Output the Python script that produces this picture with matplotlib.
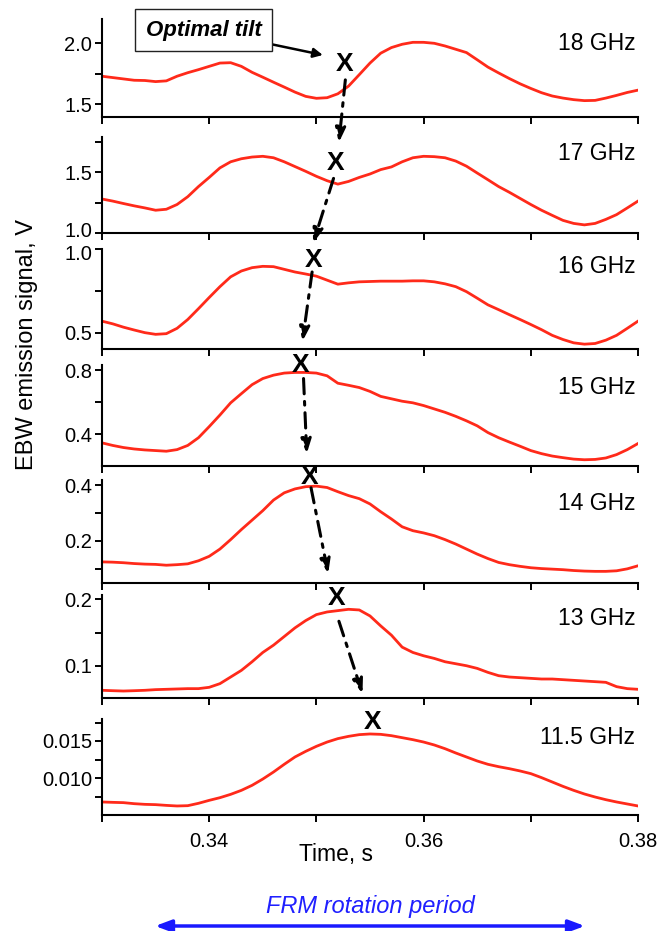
import matplotlib
matplotlib.use('Agg')
import matplotlib.pyplot as plt
from matplotlib.ticker import FixedLocator, FormatStrFormatter, NullFormatter
from matplotlib.patches import ConnectionPatch, FancyArrowPatch
from matplotlib.transforms import blended_transform_factory, ScaledTranslation

plt.rcParams['font.family'] = ['Liberation Sans', 'DejaVu Sans']

# ---------------- data ----------------
time_s = [0.330, 0.331, 0.332, 0.333, 0.334, 0.335, 0.336, 0.337, 0.338, 0.339,
          0.340, 0.341, 0.342, 0.343, 0.344, 0.345, 0.346, 0.347, 0.348, 0.349,
          0.350, 0.351, 0.352, 0.353, 0.354, 0.355, 0.356, 0.357, 0.358, 0.359,
          0.360, 0.361, 0.362, 0.363, 0.364, 0.365, 0.366, 0.367, 0.368, 0.369,
          0.370, 0.371, 0.372, 0.373, 0.374, 0.375, 0.376, 0.377, 0.378, 0.379,
          0.380]

sig_18 = [1.730, 1.719, 1.708, 1.697, 1.695, 1.686, 1.692, 1.730, 1.759, 1.784,
          1.811, 1.838, 1.841, 1.811, 1.762, 1.722, 1.681, 1.641, 1.600, 1.565,
          1.549, 1.554, 1.586, 1.649, 1.743, 1.838, 1.919, 1.965, 1.992, 2.008,
          2.008, 2.000, 1.978, 1.951, 1.924, 1.865, 1.805, 1.757, 1.711, 1.668,
          1.630, 1.595, 1.568, 1.551, 1.538, 1.530, 1.532, 1.551, 1.573, 1.597,
          1.616]
sig_17 = [1.281, 1.264, 1.244, 1.225, 1.208, 1.189, 1.197, 1.236, 1.300, 1.383,
          1.458, 1.536, 1.586, 1.611, 1.625, 1.631, 1.619, 1.586, 1.547, 1.508,
          1.467, 1.431, 1.403, 1.425, 1.458, 1.486, 1.522, 1.544, 1.586, 1.619,
          1.631, 1.628, 1.619, 1.592, 1.550, 1.494, 1.439, 1.383, 1.336, 1.286,
          1.236, 1.189, 1.147, 1.106, 1.081, 1.069, 1.081, 1.114, 1.153, 1.208,
          1.264]
sig_16 = [0.569, 0.553, 0.533, 0.516, 0.500, 0.490, 0.494, 0.526, 0.579, 0.644,
          0.711, 0.776, 0.835, 0.870, 0.890, 0.898, 0.896, 0.880, 0.864, 0.852,
          0.839, 0.815, 0.791, 0.799, 0.805, 0.807, 0.809, 0.809, 0.809, 0.811,
          0.811, 0.805, 0.793, 0.776, 0.746, 0.707, 0.667, 0.638, 0.608, 0.579,
          0.549, 0.518, 0.484, 0.459, 0.439, 0.431, 0.435, 0.455, 0.484, 0.526,
          0.569]
sig_15 = [0.347, 0.331, 0.318, 0.309, 0.303, 0.299, 0.295, 0.305, 0.331, 0.379,
          0.448, 0.520, 0.596, 0.653, 0.709, 0.747, 0.768, 0.781, 0.785, 0.785,
          0.781, 0.764, 0.718, 0.705, 0.691, 0.667, 0.636, 0.621, 0.606, 0.596,
          0.579, 0.558, 0.537, 0.512, 0.484, 0.453, 0.411, 0.379, 0.352, 0.326,
          0.299, 0.280, 0.265, 0.255, 0.246, 0.242, 0.244, 0.253, 0.274, 0.305,
          0.343]
sig_14 = [0.124, 0.123, 0.121, 0.118, 0.116, 0.115, 0.112, 0.114, 0.117, 0.128,
          0.144, 0.170, 0.204, 0.240, 0.274, 0.308, 0.346, 0.372, 0.386, 0.394,
          0.396, 0.391, 0.376, 0.362, 0.351, 0.332, 0.304, 0.278, 0.250, 0.236,
          0.228, 0.218, 0.204, 0.188, 0.170, 0.152, 0.136, 0.122, 0.114, 0.108,
          0.103, 0.100, 0.098, 0.096, 0.093, 0.091, 0.090, 0.090, 0.092, 0.099,
          0.110]
sig_13 = [0.0630, 0.0624, 0.0619, 0.0624, 0.0630, 0.0640, 0.0645, 0.0650, 0.0655, 0.0655,
          0.0675, 0.0730, 0.0830, 0.0930, 0.1060, 0.1200, 0.1310, 0.1440, 0.1570, 0.1680,
          0.1770, 0.1810, 0.1830, 0.1850, 0.1840, 0.1750, 0.1600, 0.1460, 0.1280, 0.1200,
          0.1150, 0.1110, 0.1060, 0.1030, 0.1000, 0.0960, 0.0900, 0.0850, 0.0830, 0.0820,
          0.0810, 0.0800, 0.0800, 0.0790, 0.0780, 0.0770, 0.0760, 0.0750, 0.0685, 0.0655,
          0.0645]
sig_115 = [0.00676, 0.00671, 0.00667, 0.00653, 0.00644, 0.00640, 0.00630, 0.00622, 0.00626, 0.00658,
           0.00698, 0.00734, 0.00779, 0.00833, 0.00901, 0.00986, 0.01081, 0.01185, 0.01284, 0.01360,
           0.01428, 0.01486, 0.01532, 0.01563, 0.01586, 0.01595, 0.01590, 0.01572, 0.01545, 0.01518,
           0.01486, 0.01446, 0.01396, 0.01338, 0.01284, 0.01230, 0.01185, 0.01153, 0.01126, 0.01095,
           0.01059, 0.01005, 0.00946, 0.00887, 0.00833, 0.00784, 0.00743, 0.00707, 0.00676, 0.00649,
           0.00622]

signals = [sig_18, sig_17, sig_16, sig_15, sig_14, sig_13, sig_115]
freq_labels = ['18 GHz', '17 GHz', '16 GHz', '15 GHz', '14 GHz', '13 GHz', '11.5 GHz']

y_limits = [(1.395, 2.2), (1.0, 1.79), (0.405, 1.005), (0.2, 0.83),
            (0.05, 0.418), (0.052, 0.207), (0.005, 0.018)]
y_major = [[1.5, 2.0], [1.0, 1.5], [0.5, 1.0], [0.4, 0.8], [0.2, 0.4], [0.1, 0.2], [0.010, 0.015]]
y_minor = [[1.75], [1.25, 1.75], [0.75], [0.6], [0.1, 0.3], [0.15], [0.0075, 0.0125, 0.0175]]
y_fmt = ['%.1f', '%.1f', '%.1f', '%.1f', '%.1f', '%.1f', '%.3f']

x_major = [0.34, 0.36, 0.38]
x_minor = [0.33, 0.35, 0.37]

# optimal tilt "X" marks (one per panel)
tilt_x = [0.3526, 0.3518, 0.3497, 0.3485, 0.3494, 0.3519, 0.3552]
tilt_y = [1.83, 1.576, 0.936, 0.831, 0.43, 0.2015, 0.01757]

# dash-dot arrows between marks
arr_panel_a = [0, 1, 2, 3, 4, 5]
arr_xa = [0.3527, 0.3516, 0.3496, 0.3488, 0.3495, 0.3521]
arr_ya = [1.70, 1.45, 0.864, 0.747, 0.39, 0.167]
arr_panel_b = [1, 2, 2, 3, 4, 5]
arr_xb = [0.3521, 0.3497, 0.3487, 0.3491, 0.3511, 0.3543]
arr_yb = [1.745, 1.038, 0.448, 0.28, 0.082, 0.058]

period_start, period_end = 0.3347, 0.3753

# ---------------- layout ----------------
W, H = 668, 931
fig = plt.figure(figsize=(W / 100, H / 100), dpi=100)
left_px, right_px = 102, 638
tops = [18.9, 136.9, 248.5, 365.2, 480, 594.7, 718.8]
bottoms = [117.1, 233.3, 348.5, 466.5, 582.5, 697.6, 815]
label_y = [0.75, 0.83, 0.82, 0.78, 0.77, 0.77, 0.81]

red = '#ff2a1a'
axes = []
for i in range(7):
    ax = fig.add_axes([left_px / W, 1 - bottoms[i] / H, (right_px - left_px) / W,
                       (bottoms[i] - tops[i]) / H])
    ax.set_facecolor('none')
    ax.plot(time_s, signals[i], color=red, lw=2.0)
    ax.set_xlim(0.33, 0.38)
    ax.set_ylim(*y_limits[i])
    for s in ['top', 'right']:
        ax.spines[s].set_visible(False)
    for s in ['left', 'bottom']:
        ax.spines[s].set_linewidth(1.5)
    ax.yaxis.set_major_locator(FixedLocator(y_major[i]))
    ax.yaxis.set_minor_locator(FixedLocator(y_minor[i]))
    ax.yaxis.set_major_formatter(FormatStrFormatter(y_fmt[i]))
    ax.xaxis.set_major_locator(FixedLocator(x_major))
    ax.xaxis.set_minor_locator(FixedLocator(x_minor))
    ax.tick_params(which='both', direction='out', length=5, width=1.4, labelsize=14.5,
                   colors='black', pad=2)
    if i < 6:
        ax.xaxis.set_major_formatter(NullFormatter())
    else:
        ax.xaxis.set_major_formatter(FormatStrFormatter('%.2f'))
        ax.tick_params(axis='x', pad=7)
    ax.text(0.995, label_y[i], freq_labels[i], transform=ax.transAxes,
            ha='right', va='center', fontsize=16.5)
    ax.text(tilt_x[i], tilt_y[i], 'X', ha='center', va='center', fontsize=19,
            fontweight='bold', clip_on=False, zorder=6)
    axes.append(ax)

# the two adjacent "1.0" labels (17 GHz bottom, 16 GHz top) nudged apart slightly
t_lo = axes[1].yaxis.get_major_ticks()[0].label1
t_lo.set_transform(t_lo.get_transform() + ScaledTranslation(0, 3.5 / 100, fig.dpi_scale_trans))
t_hi = axes[2].yaxis.get_major_ticks()[1].label1
t_hi.set_transform(t_hi.get_transform() + ScaledTranslation(0, -3.5 / 100, fig.dpi_scale_trans))

for k in range(len(arr_xa)):
    con = ConnectionPatch(xyA=(arr_xa[k], arr_ya[k]), coordsA=axes[arr_panel_a[k]].transData,
                          xyB=(arr_xb[k], arr_yb[k]), coordsB=axes[arr_panel_b[k]].transData,
                          arrowstyle='-|>,head_length=0.7,head_width=0.25',
                          linestyle=(0, (5, 2.5, 1.2, 2.5)), lw=2.2, color='black',
                          mutation_scale=12, zorder=7)
    fig.add_artist(con)

axes[0].annotate('Optimal tilt', xy=(0.3506, 1.904), xytext=(0.33947, 2.109),
                 ha='center', va='center', fontsize=16, fontweight='bold', fontstyle='italic',
                 bbox=dict(boxstyle='square,pad=0.48', fc='white', ec='#222222', lw=1),
                 arrowprops=dict(arrowstyle='-|>', color='black', lw=1.8, mutation_scale=14,
                                 shrinkA=0, shrinkB=0),
                 annotation_clip=False, zorder=8)

fig.text(27 / W, 1 - 345 / H, 'EBW emission signal, V', rotation=90, ha='center',
         va='center', fontsize=17)
fig.text(336 / W, 1 - 855 / H, 'Time, s', ha='center', va='center', fontsize=16.5)

tr = blended_transform_factory(axes[6].transData, fig.transFigure)
fig.text(0.5 * (period_start + period_end), 1 - 906 / H, 'FRM rotation period',
         transform=tr, ha='center', va='center', fontsize=17, fontstyle='italic',
         color='#2020ff')
arr = FancyArrowPatch((period_start, 1 - 926 / H), (period_end, 1 - 926 / H), transform=tr,
                      arrowstyle='<|-|>,head_length=0.8,head_width=0.3', color='#1a1aff',
                      lw=2.5, mutation_scale=12)
fig.add_artist(arr)

fig.savefig('out.png', dpi=100)
